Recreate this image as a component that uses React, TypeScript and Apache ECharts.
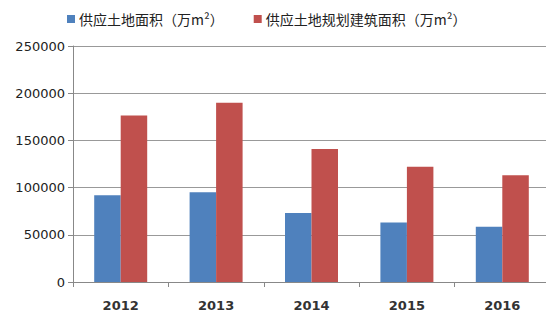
import React, { useEffect, useRef } from "react";
import * as echarts from "echarts";

const categories = ["2012", "2013", "2014", "2015", "2016"];
const landArea = [92000, 95000, 73000, 63000, 58500];
const plannedBuildingArea = [176500, 190000, 141000, 122000, 113000];
const seriesNames = ["供应土地面积（万m²）", "供应土地规划建筑面积（万m²）"];

export default function App() {
  const ref = useRef<HTMLDivElement>(null);
  useEffect(() => {
    if (!ref.current) return;
    const chart = echarts.init(ref.current, null, { renderer: "svg" });
    chart.setOption({
      animation: false,
      backgroundColor: "#ffffff",
      legend: {
        left: 62,
        top: 7,
        itemWidth: 8,
        itemHeight: 8,
        itemGap: 30,
        icon: "rect",
        textStyle: {
          fontSize: 14,
          color: "#222",
          fontFamily: "Noto Sans CJK SC",
          padding: [0, 0, 0, -1],
        },
        data: seriesNames,
      },
      grid: { left: 73, right: 4, top: 46, bottom: 38, containLabel: false },
      xAxis: {
        type: "category",
        data: categories,
        axisLine: { lineStyle: { color: "#888", width: 1 } },
        axisTick: { show: true, length: 5, lineStyle: { color: "#888" } },
        axisLabel: {
          margin: 17,
          fontSize: 13,
          fontWeight: 600,
          color: "#333",
          fontFamily: "DejaVu Sans",
        },
      },
      yAxis: {
        type: "value",
        min: 0,
        max: 250000,
        interval: 50000,
        axisLine: { show: true, lineStyle: { color: "#888", width: 1 } },
        axisTick: { show: true, length: 5, lineStyle: { color: "#888" } },
        axisLabel: {
          margin: 8,
          fontSize: 13,
          color: "#222",
          fontFamily: "DejaVu Sans",
          formatter: (v: number) => String(v),
        },
        splitLine: { lineStyle: { color: "#999", width: 1.2 } },
      },
      series: [
        {
          name: seriesNames[0],
          type: "bar",
          data: landArea,
          barWidth: 26.5,
          barGap: "0%",
          itemStyle: { color: "#4F81BD" },
        },
        {
          name: seriesNames[1],
          type: "bar",
          data: plannedBuildingArea,
          barWidth: 26.5,
          barGap: "0%",
          itemStyle: { color: "#C0504D" },
        },
      ],
    });
    return () => chart.dispose();
  }, []);
  return <div ref={ref} style={{ width: 554, height: 320, margin: -8 }} />;
}
